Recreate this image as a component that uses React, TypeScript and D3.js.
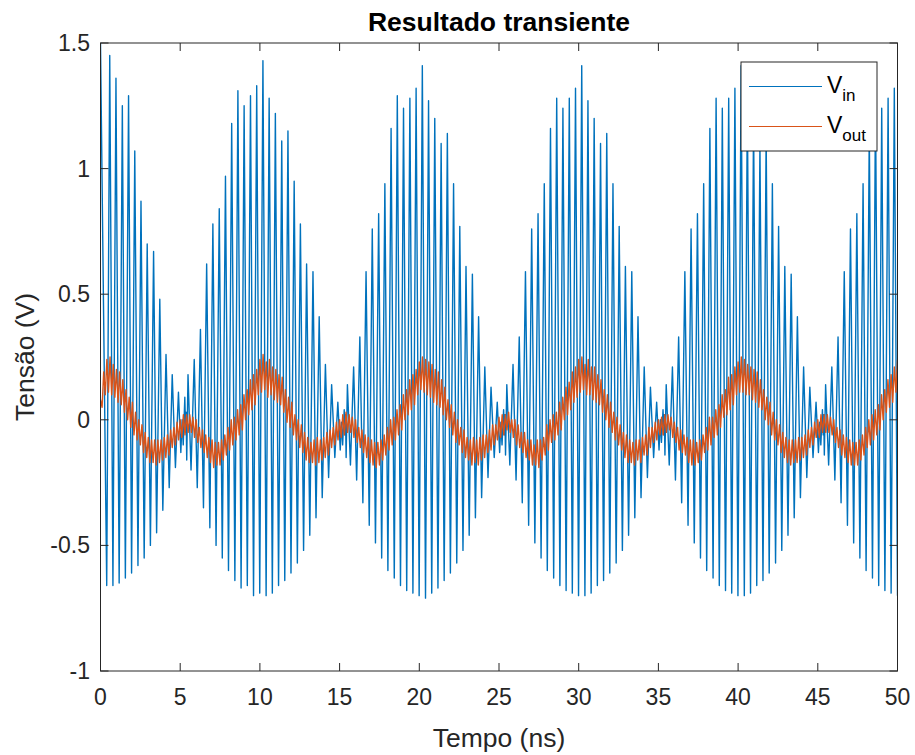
import React from 'react';
import * as d3 from 'd3';

// V_in: extremum samples (time in ns, volts)
const vinTimeNs = [
  0, 0.39, 0.58, 0.78, 0.97, 1.17, 1.37, 1.56, 1.76, 1.95, 2.15, 2.35, 2.54, 2.74, 2.93, 3.13, 3.33, 3.52, 3.72, 3.91, 4.11, 4.31, 4.50, 4.70, 4.89, 5.04, 5.12, 5.19, 5.29, 5.34, 5.37, 5.41, 5.49, 5.68, 5.88, 6.07, 6.27, 6.46, 6.66, 6.86, 7.05, 7.25, 7.45, 7.64, 7.84, 8.03, 8.23, 8.43, 8.62, 8.82, 9.01, 9.21, 9.41, 9.60, 9.80, 9.99,
  10.19, 10.39, 10.58, 10.78, 10.97, 11.17, 11.37, 11.56, 11.76, 11.95, 12.15, 12.35, 12.54, 12.74, 12.93, 13.13, 13.33, 13.52, 13.72, 13.91, 14.11, 14.31, 14.50, 14.70, 14.89, 15.04, 15.12, 15.19, 15.29, 15.34, 15.37, 15.41, 15.49, 15.68, 15.88, 16.07, 16.27, 16.46, 16.66, 16.86, 17.05, 17.25, 17.45, 17.64, 17.84, 18.03, 18.23, 18.43, 18.62, 18.82, 19.01, 19.21, 19.41, 19.60, 19.80, 19.99,
  20.19, 20.39, 20.58, 20.78, 20.97, 21.17, 21.37, 21.56, 21.76, 21.95, 22.15, 22.35, 22.54, 22.74, 22.93, 23.13, 23.33, 23.52, 23.72, 23.91, 24.11, 24.31, 24.50, 24.70, 24.89, 25.04, 25.12, 25.19, 25.29, 25.34, 25.37, 25.41, 25.49, 25.68, 25.88, 26.07, 26.27, 26.46, 26.66, 26.86, 27.05, 27.25, 27.45, 27.64, 27.84, 28.03, 28.23, 28.43, 28.62, 28.82, 29.01, 29.21, 29.41, 29.60, 29.80, 29.99,
  30.19, 30.39, 30.58, 30.78, 30.97, 31.17, 31.37, 31.56, 31.76, 31.95, 32.15, 32.35, 32.54, 32.74, 32.93, 33.13, 33.33, 33.52, 33.72, 33.91, 34.11, 34.31, 34.50, 34.70, 34.89, 35.04, 35.12, 35.19, 35.29, 35.34, 35.37, 35.41, 35.49, 35.68, 35.88, 36.07, 36.27, 36.46, 36.66, 36.86, 37.05, 37.25, 37.45, 37.64, 37.84, 38.03, 38.23, 38.43, 38.62, 38.82, 39.01, 39.21, 39.41, 39.60, 39.80, 39.99,
  40.19, 40.39, 40.58, 40.78, 40.97, 41.17, 41.37, 41.56, 41.76, 41.95, 42.15, 42.35, 42.54, 42.74, 42.93, 43.13, 43.33, 43.52, 43.72, 43.91, 44.11, 44.31, 44.50, 44.70, 44.89, 45.04, 45.12, 45.19, 45.29, 45.34, 45.37, 45.41, 45.49, 45.68, 45.88, 46.07, 46.27, 46.46, 46.66, 46.86, 47.05, 47.25, 47.45, 47.64, 47.84, 48.03, 48.23, 48.43, 48.62, 48.82, 49.01, 49.21, 49.41, 49.60, 49.80, 50.00,
];

const vinVolts = [
  1.50, -0.66, 1.45, -0.66, 1.36, -0.65, 1.25, -0.63, 1.29, -0.61, 1.07, -0.58, 0.87, -0.55, 0.70, -0.50, 0.67, -0.45, 0.48, -0.36, 0.26, -0.27, 0.18, -0.19, 0.11, -0.13, 0.00, -0.10, 0.09, -0.05, 0.03, -0.16, 0.18, -0.20, 0.24, -0.27, 0.36, -0.35, 0.62, -0.43, 0.78, -0.50, 0.84, -0.55, 0.97, -0.60, 1.18, -0.64, 1.31, -0.67, 1.25, -0.66, 1.29, -0.70, 1.33, -0.69,
  1.43, -0.70, 1.28, -0.69, 1.22, -0.66, 1.11, -0.64, 1.15, -0.61, 0.95, -0.57, 0.78, -0.52, 0.62, -0.46, 0.59, -0.39, 0.41, -0.31, 0.22, -0.23, 0.14, -0.15, 0.07, -0.12, -0.01, -0.10, 0.04, -0.06, 0.02, -0.15, 0.14, -0.18, 0.21, -0.24, 0.33, -0.33, 0.59, -0.42, 0.76, -0.49, 0.82, -0.55, 0.94, -0.60, 1.16, -0.63, 1.29, -0.66, 1.24, -0.68, 1.28, -0.69, 1.32, -0.70,
  1.41, -0.71, 1.27, -0.69, 1.20, -0.67, 1.10, -0.64, 1.14, -0.61, 0.94, -0.57, 0.77, -0.52, 0.61, -0.46, 0.58, -0.39, 0.41, -0.31, 0.21, -0.23, 0.13, -0.15, 0.07, -0.13, -0.01, -0.10, 0.04, -0.06, 0.02, -0.14, 0.14, -0.18, 0.22, -0.24, 0.33, -0.33, 0.59, -0.42, 0.76, -0.49, 0.82, -0.55, 0.94, -0.60, 1.16, -0.63, 1.28, -0.66, 1.24, -0.68, 1.28, -0.69, 1.32, -0.70,
  1.41, -0.70, 1.27, -0.69, 1.20, -0.66, 1.10, -0.64, 1.14, -0.61, 0.94, -0.57, 0.77, -0.52, 0.61, -0.46, 0.59, -0.39, 0.41, -0.31, 0.21, -0.23, 0.13, -0.15, 0.07, -0.12, 0.00, -0.09, 0.04, -0.06, 0.02, -0.14, 0.14, -0.18, 0.21, -0.24, 0.33, -0.33, 0.59, -0.42, 0.76, -0.49, 0.82, -0.55, 0.94, -0.60, 1.16, -0.63, 1.28, -0.66, 1.24, -0.68, 1.28, -0.69, 1.32, -0.70,
  1.41, -0.70, 1.27, -0.69, 1.20, -0.66, 1.10, -0.64, 1.14, -0.61, 0.94, -0.57, 0.77, -0.52, 0.61, -0.46, 0.58, -0.39, 0.41, -0.31, 0.21, -0.23, 0.13, -0.15, 0.07, -0.13, -0.01, -0.10, 0.04, -0.06, 0.02, -0.14, 0.14, -0.18, 0.21, -0.24, 0.33, -0.33, 0.59, -0.42, 0.76, -0.49, 0.82, -0.55, 0.94, -0.60, 1.16, -0.63, 1.28, -0.66, 1.24, -0.68, 1.28, -0.69, 1.32, -0.70,
];

const voutStartNs = 0;
const voutStepNs = 0.1;
const voutVolts = [
  0.08, 0.05, 0.19, 0.10, 0.24, 0.11, 0.25, 0.10, 0.22, 0.09,
  0.20, 0.07, 0.19, 0.06, 0.16, 0.03, 0.12, 0.00, 0.09, -0.03,
  0.07, -0.06, 0.03, -0.08, 0.00, -0.10, -0.02, -0.13, -0.05, -0.15,
  -0.07, -0.17, -0.08, -0.17, -0.08, -0.18, -0.08, -0.17, -0.08, -0.16,
  -0.07, -0.15, -0.06, -0.14, -0.04, -0.11, -0.03, -0.10, -0.01, -0.08,
  0.00, -0.07, 0.02, -0.06, 0.02, -0.05, 0.02, -0.05, 0.01, -0.07,
  0.00, -0.09, -0.03, -0.11, -0.04, -0.13, -0.06, -0.15, -0.07, -0.17,
  -0.08, -0.19, -0.09, -0.18, -0.09, -0.18, -0.08, -0.16, -0.06, -0.14,
  -0.03, -0.12, 0.00, -0.10, 0.01, -0.08, 0.04, -0.06, 0.06, -0.04,
  0.10, 0.00, 0.12, 0.02, 0.16, 0.04, 0.18, 0.06, 0.20, 0.10,

  0.24, 0.11, 0.26, 0.12, 0.23, 0.09, 0.24, 0.10, 0.21, 0.08,
  0.20, 0.07, 0.18, 0.06, 0.17, 0.03, 0.12, -0.01, 0.09, -0.03,
  0.07, -0.06, 0.02, -0.08, 0.00, -0.11, -0.02, -0.13, -0.05, -0.16,
  -0.07, -0.17, -0.09, -0.17, -0.08, -0.18, -0.07, -0.17, -0.08, -0.16,
  -0.07, -0.15, -0.05, -0.14, -0.04, -0.11, -0.03, -0.10, -0.01, -0.08,
  0.00, -0.07, 0.02, -0.06, 0.03, -0.05, 0.02, -0.05, 0.01, -0.07,
  0.00, -0.09, -0.03, -0.11, -0.04, -0.13, -0.06, -0.15, -0.07, -0.17,
  -0.08, -0.18, -0.09, -0.19, -0.09, -0.18, -0.08, -0.16, -0.06, -0.14,
  -0.03, -0.12, 0.00, -0.10, 0.01, -0.08, 0.04, -0.06, 0.06, -0.04,
  0.10, 0.00, 0.12, 0.02, 0.16, 0.04, 0.18, 0.06, 0.20, 0.10,

  0.23, 0.12, 0.25, 0.11, 0.24, 0.10, 0.23, 0.09, 0.22, 0.07,
  0.20, 0.06, 0.19, 0.05, 0.16, 0.02, 0.13, 0.00, 0.08, -0.03,
  0.06, -0.06, 0.03, -0.09, 0.00, -0.10, -0.03, -0.13, -0.04, -0.15,
  -0.07, -0.16, -0.08, -0.18, -0.07, -0.17, -0.08, -0.18, -0.07, -0.16,
  -0.06, -0.15, -0.06, -0.13, -0.04, -0.12, -0.02, -0.10, -0.02, -0.08,
  0.01, -0.07, 0.02, -0.06, 0.02, -0.04, 0.03, -0.05, 0.00, -0.07,
  0.00, -0.10, -0.02, -0.11, -0.05, -0.13, -0.05, -0.15, -0.08, -0.16,
  -0.08, -0.18, -0.10, -0.18, -0.08, -0.19, -0.08, -0.16, -0.07, -0.14,
  -0.02, -0.12, 0.00, -0.09, 0.02, -0.08, 0.03, -0.06, 0.07, -0.04,
  0.09, 0.00, 0.13, 0.02, 0.15, 0.04, 0.19, 0.07, 0.21, 0.09,

  0.24, 0.11, 0.25, 0.12, 0.22, 0.10, 0.24, 0.10, 0.21, 0.08,
  0.21, 0.07, 0.18, 0.06, 0.16, 0.03, 0.12, 0.00, 0.10, -0.03,
  0.07, -0.05, 0.03, -0.08, 0.01, -0.10, -0.02, -0.12, -0.05, -0.15,
  -0.06, -0.17, -0.08, -0.17, -0.09, -0.18, -0.08, -0.16, -0.08, -0.17,
  -0.07, -0.14, -0.06, -0.14, -0.03, -0.11, -0.03, -0.09, -0.01, -0.08,
  0.00, -0.06, 0.01, -0.06, 0.02, -0.05, 0.02, -0.04, 0.01, -0.07,
  -0.01, -0.09, -0.03, -0.12, -0.04, -0.13, -0.06, -0.14, -0.07, -0.17,
  -0.08, -0.18, -0.08, -0.18, -0.09, -0.17, -0.08, -0.16, -0.06, -0.13,
  -0.03, -0.12, 0.01, -0.10, 0.01, -0.07, 0.04, -0.06, 0.06, -0.03,
  0.10, 0.01, 0.12, 0.02, 0.17, 0.04, 0.18, 0.06, 0.21, 0.10,

  0.23, 0.11, 0.25, 0.11, 0.24, 0.10, 0.22, 0.10, 0.21, 0.08,
  0.20, 0.07, 0.19, 0.05, 0.16, 0.04, 0.12, 0.00, 0.09, -0.02,
  0.07, -0.06, 0.03, -0.08, 0.00, -0.10, -0.02, -0.13, -0.05, -0.15,
  -0.07, -0.17, -0.08, -0.18, -0.08, -0.17, -0.08, -0.17, -0.07, -0.16,
  -0.07, -0.15, -0.06, -0.14, -0.04, -0.11, -0.03, -0.10, -0.01, -0.07,
  0.00, -0.07, 0.02, -0.05, 0.02, -0.05, 0.02, -0.05, 0.01, -0.06,
  0.00, -0.09, -0.03, -0.11, -0.04, -0.14, -0.06, -0.15, -0.07, -0.17,
  -0.08, -0.18, -0.09, -0.18, -0.09, -0.18, -0.08, -0.16, -0.06, -0.14,
  -0.03, -0.11, 0.00, -0.10, 0.02, -0.08, 0.04, -0.06, 0.06, -0.04,
  0.10, 0.00, 0.12, 0.03, 0.16, 0.05, 0.18, 0.07, 0.21, 0.11,
  0.24,
];

const xTicks = [0, 5, 10, 15, 20, 25, 30, 35, 40, 45, 50];
const yTicks = [-1, -0.5, 0, 0.5, 1, 1.5];
const legendSubs = ['in', 'out'];
const seriesColors = ['#0072BD', '#D95319'];

const FONT = '"Liberation Sans", Arial, Helvetica, sans-serif';
const AX = '#262626';

export default function App() {
  const W = 915, H = 755;
  const L = 100.5, R = 897.5, T = 43, B = 671;
  const x = d3.scaleLinear().domain([0, 50]).range([L, R]);
  const y = d3.scaleLinear().domain([-1, 1.5]).range([B, T]);

  const nIn = Math.min(vinTimeNs.length, vinVolts.length);
  const vinPath = d3.line<number>()
    .x((i) => x(vinTimeNs[i]))
    .y((i) => y(vinVolts[i]))(d3.range(nIn)) || '';
  const voutPath = d3.line<number>()
    .x((_, i) => x(voutStartNs + i * voutStepNs))
    .y((v) => y(v))(voutVolts) || '';

  const tickLen = 8;
  const legX = 741, legY = 62, legW = 136, legH = 89;
  const rowY = [86.5, 126.5];

  return (
    <svg width={W} height={H} style={{ position: 'absolute', left: 0, top: 0, background: '#fff' }}
      fontFamily={FONT}>
      <rect x={0} y={0} width={W} height={H} fill="#fff" />
      <defs>
        <clipPath id="plotclip">
          <rect x={L} y={T} width={R - L} height={B - T} />
        </clipPath>
      </defs>
      <g clipPath="url(#plotclip)">
        <path d={vinPath} fill="none" stroke={seriesColors[0]} strokeWidth={1.4} strokeLinejoin="round" />
        <path d={voutPath} fill="none" stroke={seriesColors[1]} strokeWidth={1.4} strokeLinejoin="round" />
      </g>
      <rect x={L} y={T} width={R - L} height={B - T} fill="none" stroke={AX} strokeWidth={1} />
      {xTicks.map((t) => (
        <g key={'x' + t}>
          <line x1={x(t)} x2={x(t)} y1={B} y2={B - tickLen} stroke={AX} />
          <line x1={x(t)} x2={x(t)} y1={T} y2={T + tickLen} stroke={AX} />
          <text x={x(t)} y={705} textAnchor="middle" fontSize={23} fill={AX}>{t}</text>
        </g>
      ))}
      {yTicks.map((v) => (
        <g key={'y' + v}>
          <line x1={L} x2={L + tickLen} y1={y(v)} y2={y(v)} stroke={AX} />
          <line x1={R} x2={R - tickLen} y1={y(v)} y2={y(v)} stroke={AX} />
          <text x={90} y={y(v) + 8} textAnchor="end" fontSize={23} fill={AX}>{String(v)}</text>
        </g>
      ))}
      <text x={(L + R) / 2} y={747} textAnchor="middle" fontSize={26.5} fill={AX}>Tempo (ns)</text>
      <text transform={`translate(34, ${(T + B) / 2}) rotate(-90)`} textAnchor="middle" fontSize={26.5}
        fill={AX}>Tensão (V)</text>
      <text x={(L + R) / 2} y={31} textAnchor="middle" fontSize={26.5} fontWeight="bold" fill="#000">
        Resultado transiente
      </text>
      <rect x={legX} y={legY} width={legW} height={legH} fill="#fff" stroke={AX} strokeWidth={1} />
      {legendSubs.map((s, k) => (
        <g key={s}>
          <line x1={749} x2={822} y1={rowY[k]} y2={rowY[k]} stroke={seriesColors[k]} strokeWidth={1.2} />
          <text x={827} y={rowY[k] + 6} fontSize={23} fill="#000">
            V<tspan fontSize={17} dy={8}>{s}</tspan>
          </text>
        </g>
      ))}
    </svg>
  );
}
